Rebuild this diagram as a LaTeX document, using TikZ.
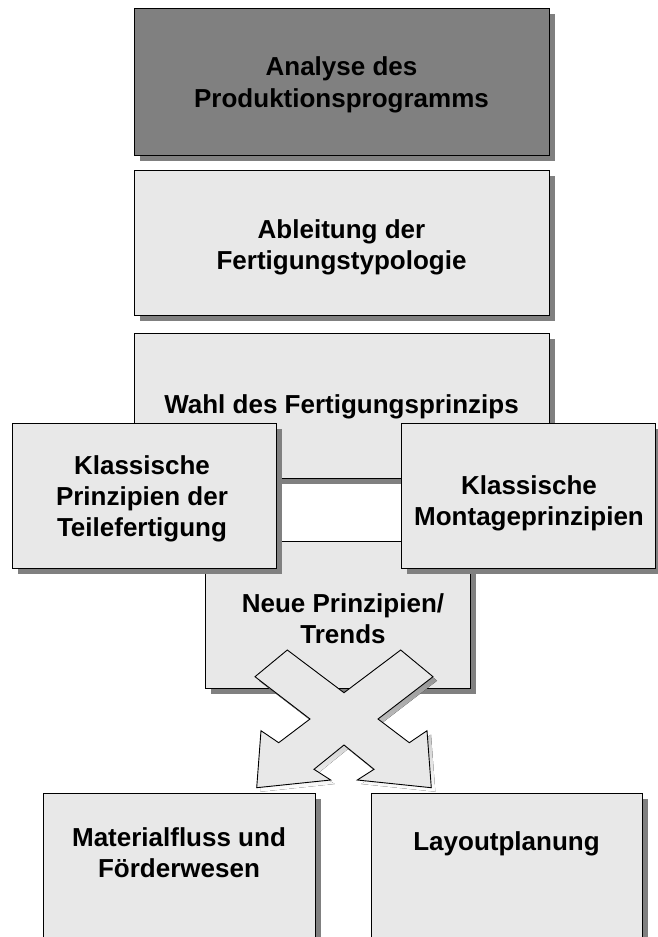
\documentclass[tikz,border=0pt]{standalone}
\usepackage{fontspec}
\setmainfont{Liberation Sans}
\usetikzlibrary{shadows}

\definecolor{boxfill}{RGB}{232,232,232}
\definecolor{darkfill}{RGB}{128,128,128}
\definecolor{shade}{RGB}{128,128,128}

\tikzset{
  panel/.style={rectangle, draw=black, line width=1pt, fill=boxfill,
    inner sep=0pt, anchor=north west,
    drop shadow={shadow xshift=5pt, shadow yshift=-5pt, fill=shade, opacity=1}},
  lbl/.style={font=\fontsize{26}{31}\selectfont\bfseries, align=center,
    inner sep=0pt, anchor=north},
}
% invisible strut: puts the node's top edge 19pt above the first baseline
\newcommand\capstrut{\rule{0pt}{19pt}}

\begin{document}
\begin{tikzpicture}[x=1pt,y=-1pt]
\useasboundingbox (0,0) rectangle (657,937);

% stacked process steps
\node[panel, fill=darkfill, minimum width=415pt, minimum height=147pt] (prog) at (134,8) {};
\node[panel, minimum width=415pt, minimum height=145pt] (typ) at (134,170) {};
\node[panel, minimum width=415pt, minimum height=145pt] (wahl) at (134,333) {};
\node[panel, minimum width=265pt, minimum height=147pt] (trend) at (205,541) {};
\node[panel, minimum width=264pt, minimum height=145pt] (teile) at (12,423) {};
\node[panel, minimum width=254pt, minimum height=145pt] (montage) at (401,423) {};

\node[lbl, font=\fontsize{26}{32.5}\selectfont\bfseries] (progT) at (341.5,56) {\capstrut Analyse des\\Produktionsprogramms};
\node[lbl] (typT) at (341.5,219) {\capstrut Ableitung der\\Fertigungstypologie};
\node[lbl] (wahlT) at (341.5,394) {\capstrut Wahl des Fertigungsprinzips};
\node[lbl] (teileT) at (142,455) {\capstrut Klassische\\Prinzipien der\\Teilefertigung};
\node[lbl] (montageT) at (529,475) {\capstrut Klassische\\Montageprinzipien};
\node[lbl] (trendT) at (343,593.5) {\capstrut Neue Prinzipien/\\Trends};

% crossing double arrow
\def\crosspath{(255,676.7) -- (287.3,650) -- (344,692.7) -- (400.7,650) -- (433,676.7)
  -- (378,719) -- (409.3,742.7) -- (427,730.7) -- (431.3,787.7) -- (357.3,780)
  -- (374,769.3) -- (344,745) -- (314,769.3) -- (330.7,780) -- (256.7,787.7)
  -- (261,730.7) -- (278.7,742.7) -- (310,719) -- cycle}
\fill[shade, shift={(4,4)}] \crosspath;
\filldraw[fill=boxfill, draw=black, line width=0.9pt, line join=miter] \crosspath;

% follow-up steps
\node[panel, minimum width=272pt, minimum height=200pt] (mat) at (43,793) {};
\node[panel, minimum width=271pt, minimum height=200pt] (lay) at (371,793) {};
\node[lbl] (matT) at (179,827.5) {\capstrut Materialfluss und\\Förderwesen};
\node[lbl] (layT) at (506.5,831.5) {\capstrut Layoutplanung};
\end{tikzpicture}
\end{document}
